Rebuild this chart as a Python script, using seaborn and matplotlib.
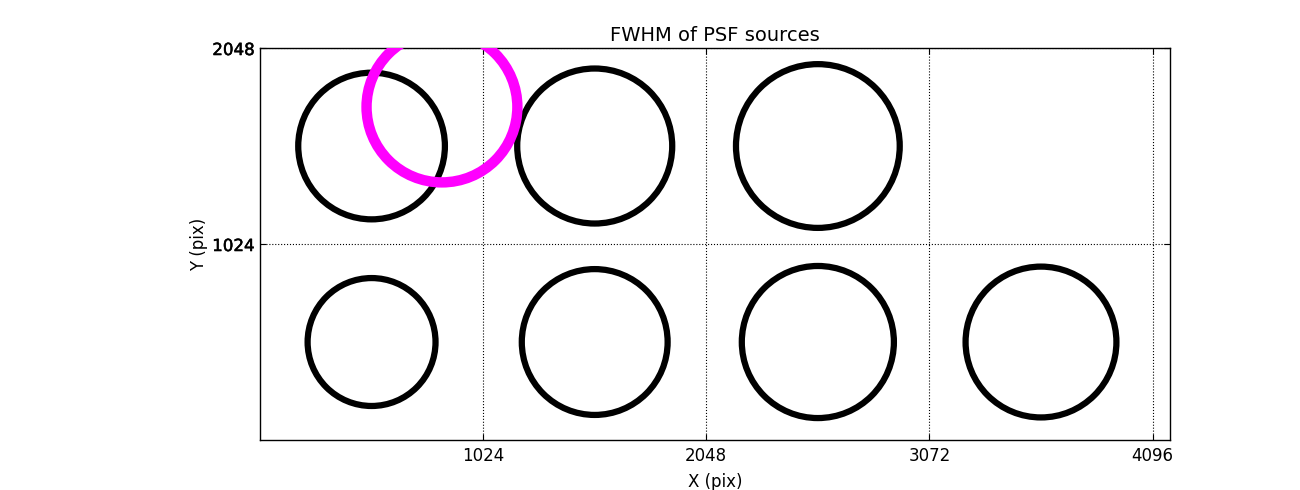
"""FWHM of PSF sources across the detector: one circle per chip, size ~ FWHM."""

import matplotlib.patheffects as pe
import matplotlib.pyplot as plt
import pandas as pd
import seaborn as sns

# chip centres (pix) and measured FWHM (arbitrary units) -- chip 4 of top row has no fit
chip_x = [512, 1536, 2560, 512, 1536, 2560, 3584]
chip_y = [1536, 1536, 1536, 512, 512, 512, 512]
chip_fwhm = [3.52, 3.72, 3.93, 3.07, 3.50, 3.65, 3.62]

# reference source (highlighted)
ref_x = [835]
ref_y = [1740]
ref_fwhm = [3.62]

x_ticks = [1024, 2048, 3072, 4096]
y_ticks = [1024, 2048]

PT_PER_FWHM = 30.0

sns.set_style("ticks")
plt.rcParams["font.family"] = ["DejaVu Sans"]
plt.rcParams.update({
    "xtick.direction": "in",
    "ytick.direction": "in",
    "xtick.top": True,
    "ytick.right": True,
    "xtick.major.size": 4,
    "ytick.major.size": 4,
    "xtick.major.pad": 5,
    "ytick.major.pad": 4,
    "axes.edgecolor": "black",
    "axes.linewidth": 1.0,
    "xtick.color": "black",
    "ytick.color": "black",
    "text.color": "black",
    "axes.labelcolor": "black",
})

chips = pd.DataFrame({"x": chip_x, "y": chip_y, "fwhm": chip_fwhm})
ref = pd.DataFrame({"x": ref_x, "y": ref_y, "fwhm": ref_fwhm})

fig = plt.figure(figsize=(13, 4.9), dpi=100)
ax = fig.add_axes([0.2, 0.102, 0.7, 0.8])

for df, col, lw, z in [(chips, "black", 4.5, 2), (ref, "magenta", 7.5, 3)]:
    sns.scatterplot(
        data=df, x="x", y="y", ax=ax,
        s=(df["fwhm"] * PT_PER_FWHM) ** 2,
        marker="o", facecolor="none", edgecolor=col,
        linewidth=lw, zorder=z, legend=False,
    )
    coll = ax.collections[-1]
    coll.set_facecolor("none")
    coll.set_edgecolor(col)

ax.set_xlim(0, 4176)
ax.set_ylim(0, 2048)
ax.set_xticks(x_ticks)
ax.set_yticks(y_ticks)
ax.tick_params(labelsize=12)
# y labels look slightly heavier in the original (drawn twice)
for lbl in ax.get_yticklabels():
    lbl.set_path_effects([pe.withStroke(linewidth=0.35, foreground="black")])
ax.grid(True, linestyle=":", color="black", linewidth=0.8)
ax.set_axisbelow(True)

ax.set_xlabel("X (pix)", fontsize=12, labelpad=6)
ax.set_ylabel("Y (pix)", fontsize=12, labelpad=3)
ax.set_title("FWHM of PSF sources", fontsize=14, pad=5)

fig.savefig("out.png", dpi=100)
plt.close(fig)
